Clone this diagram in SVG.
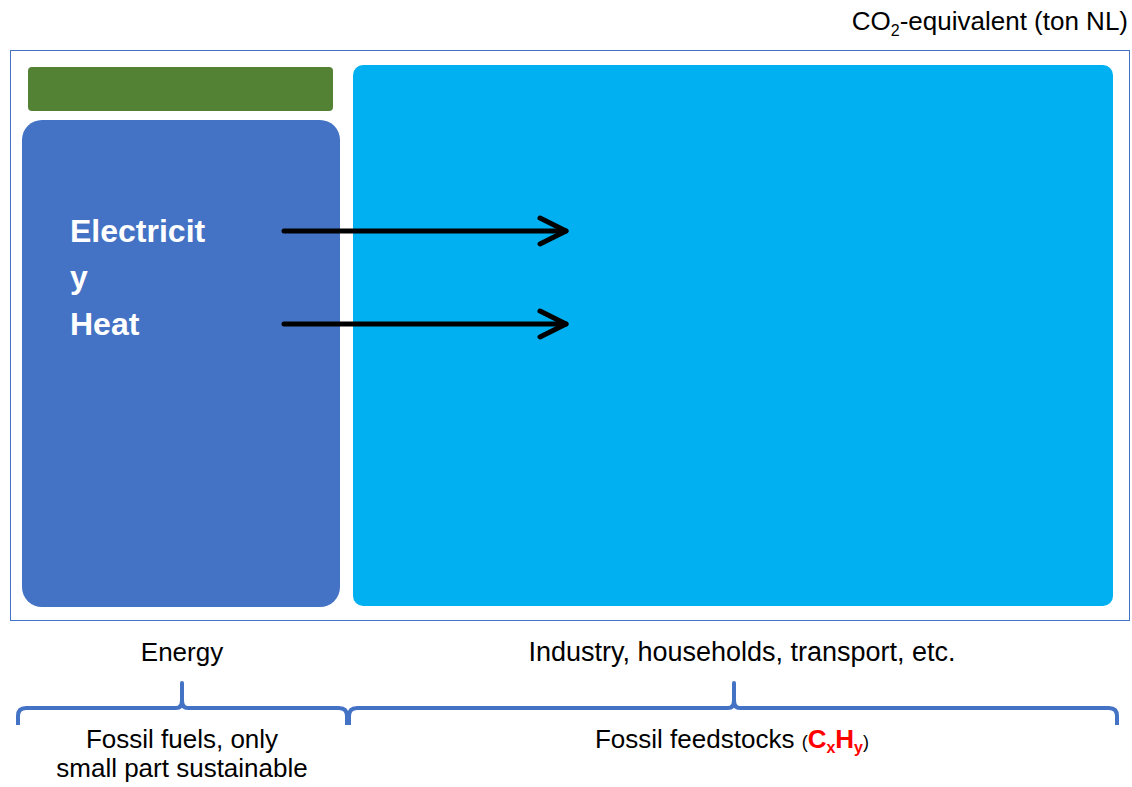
<svg xmlns="http://www.w3.org/2000/svg" width="1132" height="787" viewBox="0 0 1132 787">
  <style>
    .lbl { font-family: "Liberation Sans", Arial, sans-serif; font-size: 26px; fill: #000000; }
    .wide { font-size: 27px; }
    .inner { font-family: "Liberation Sans", Arial, sans-serif; font-size: 32px; font-weight: bold; fill: #ffffff; }
    .brace { fill: none; stroke: #4472C4; stroke-width: 4; stroke-linejoin: round; }
    .flow { fill: none; stroke: #000000; stroke-width: 5; stroke-linecap: round; stroke-linejoin: round; }
    .red { fill: #FF0000; font-weight: bold; }
  </style>
  <defs>
    <marker id="chevron" markerUnits="userSpaceOnUse" markerWidth="40" markerHeight="40" refX="30" refY="20" orient="auto" overflow="visible">
      <path d="M4,7 L30,20 L4,33" fill="none" stroke="#000000" stroke-width="5" stroke-linecap="round" stroke-linejoin="round"/>
    </marker>
  </defs>

  <rect width="1132" height="787" fill="#ffffff"/>

  <!-- axis caption -->
  <text class="lbl" x="1128" y="30" text-anchor="end">CO<tspan font-size="16" dy="6">2</tspan><tspan dy="-6">-equivalent (ton NL)</tspan></text>

  <!-- outer frame -->
  <g id="frame">
    <rect x="10.5" y="50.5" width="1119" height="570" fill="none" stroke="#4472C4" stroke-width="1"/>
  </g>

  <g id="sustainable">
    <rect x="28" y="67" width="305" height="44" rx="4" fill="#548235"/>
  </g>

  <g id="energy">
    <rect x="22" y="120" width="318" height="487" rx="20" fill="#4472C4"/>
    <text class="inner" x="70" y="242">Electricit</text>
    <text class="inner" x="70" y="288">y</text>
    <text class="inner" x="70" y="335">Heat</text>
  </g>

  <g id="feedstocks">
    <rect x="353" y="65" width="760" height="541" rx="10" fill="#00B0F0"/>
  </g>

  <g id="connectors">
    <line class="flow" x1="284" y1="231" x2="566" y2="231" marker-end="url(#chevron)"/>
    <line class="flow" x1="284" y1="324" x2="566" y2="324" marker-end="url(#chevron)"/>
  </g>

  <!-- sector labels -->
  <text class="lbl" x="182" y="661" text-anchor="middle">Energy</text>
  <text class="lbl wide" x="742" y="661" text-anchor="middle">Industry, households, transport, etc.</text>

  <!-- braces -->
  <g id="braces">
    <path class="brace" d="M18,725 L18,716 Q18,708 26,708 L176,708 Q182,708 182,700 L182,683 L182,700 Q182,708 188,708 L339,708 Q347,708 347,716 L347,725"/>
    <path class="brace" d="M349,725 L349,716 Q349,708 357,708 L728,708 Q734,708 734,700 L734,683 L734,700 Q734,708 740,708 L1109,708 Q1117,708 1117,716 L1117,725"/>
  </g>

  <!-- origin labels -->
  <text class="lbl" x="182" y="748" text-anchor="middle">Fossil fuels, only</text>
  <text class="lbl" x="182" y="777" text-anchor="middle">small part sustainable</text>
  <text class="lbl" x="732" y="748" text-anchor="middle">Fossil feedstocks <tspan font-size="18">(</tspan><tspan class="red">C</tspan><tspan class="red" font-size="16" dy="5">x</tspan><tspan class="red" dy="-5">H</tspan><tspan class="red" font-size="16" dy="5">y</tspan><tspan font-size="18" dy="-5">)</tspan></text>
</svg>
